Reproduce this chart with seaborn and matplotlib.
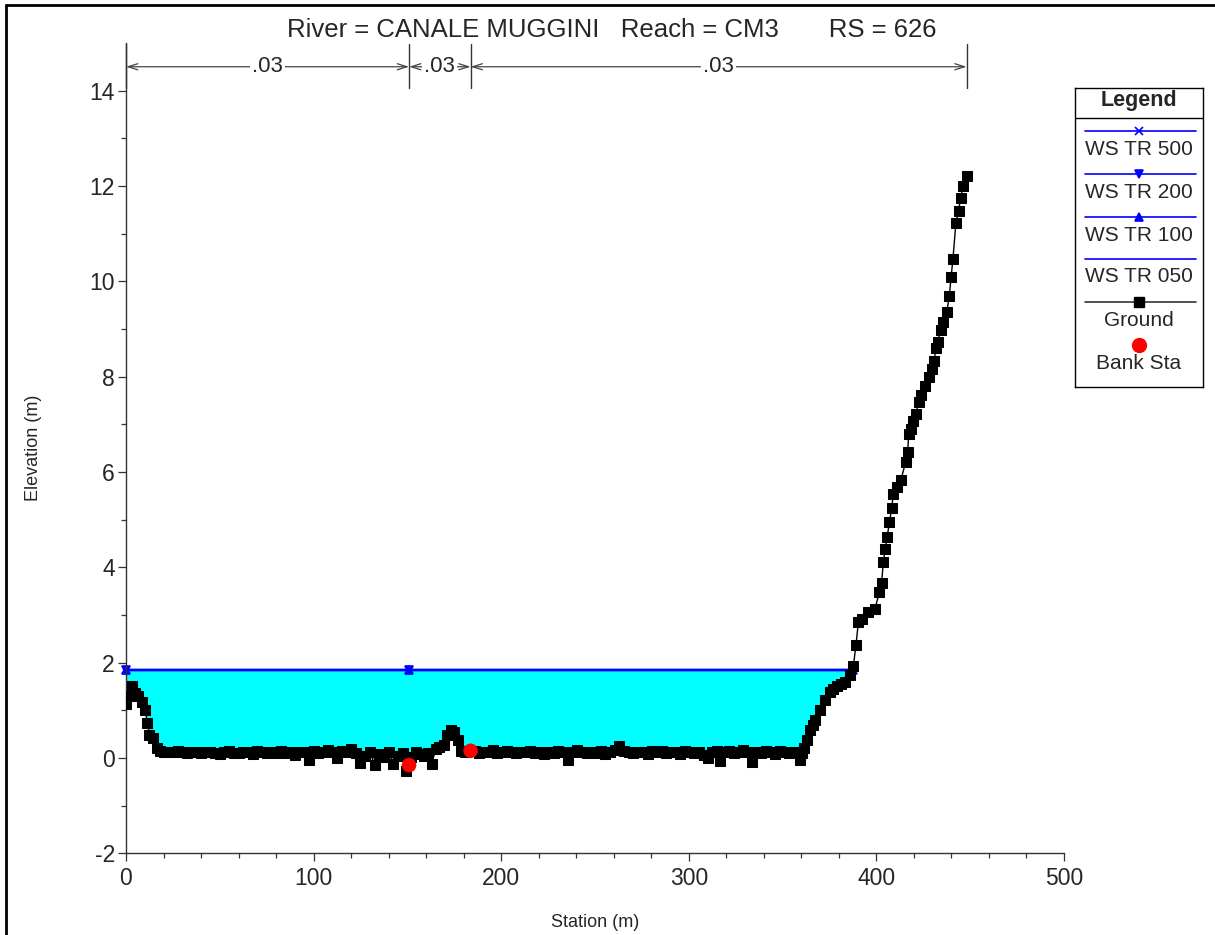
import numpy as np
import matplotlib
matplotlib.use('Agg')
import matplotlib.pyplot as plt
from matplotlib.lines import Line2D
from matplotlib.ticker import MultipleLocator, FixedLocator
import seaborn as sns

# ground profile (station m, elevation m)
ground_sta = [0.0, 1.5, 3.0, 4.8, 6.6, 8.4, 10.1, 11.4, 12.4, 14.6, 16.3, 18.0, 20.0, 22.5, 25.0,
              27.5, 30.0, 32.5, 35.0, 37.5, 40.0, 42.5, 45.0, 47.5, 50.0, 52.5, 55.0, 57.5, 60.0,
              62.5, 65.0, 67.5, 70.0, 72.5, 75.0, 77.5, 80.0, 82.5, 85.0, 87.5, 90.0, 92.5, 95.0,
              97.5, 100.0, 102.5, 105.0, 107.5, 110.0, 112.5, 115.0, 117.5, 120.0, 122.5, 125.0,
              127.5, 130.0, 132.5, 135.0, 137.5, 140.0, 142.5, 145.0, 147.5, 149.5, 152.0, 154.5,
              157.0, 159.0, 161.0, 163.0, 165.0, 167.0, 169.5, 171.0, 173.0, 175.0, 177.0, 178.5,
              180.5, 183.7, 186.0, 188.0, 190.5, 193.0, 195.5, 198.0, 200.5, 203.0, 205.5, 208.0,
              210.5, 213.0, 215.5, 218.0, 220.5, 223.0, 225.5, 228.0, 230.5, 233.0, 235.5, 238.0,
              240.5, 243.0, 245.5, 248.0, 250.5, 253.0, 255.5, 258.0, 260.5, 263.0, 265.5, 268.0,
              270.5, 273.0, 275.5, 278.0, 280.5, 283.0, 285.5, 288.0, 290.5, 293.0, 295.5, 298.0,
              300.5, 303.0, 305.5, 308.0, 310.0, 312.5, 315.0, 316.6, 319.0, 321.5, 324.0, 326.5,
              329.0, 331.5, 333.8, 336.0, 338.5, 341.0, 343.5, 346.0, 348.5, 351.0, 353.5, 356.0,
              359.3, 360.5, 361.4, 362.8, 364.6, 366.0, 367.3, 369.9, 372.6, 375.3, 377.0, 378.8,
              381.0, 383.3, 385.9, 387.7, 389.1, 390.4, 392.2, 395.7, 399.3, 401.6, 402.8, 403.7,
              404.7, 405.8, 406.9, 408.2, 409.0, 411.2, 413.1, 415.6, 416.7, 417.2, 418.4, 419.7,
              421.1, 422.5, 423.6, 425.9, 428.0, 429.5, 430.7, 431.8, 432.7, 434.3, 435.7, 437.5,
              438.9, 439.8, 440.8, 442.4, 443.8, 444.9, 446.3, 448.1]
ground_elev = [1.13, 1.30, 1.50, 1.36, 1.29, 1.18, 1.00, 0.74, 0.48, 0.41, 0.20, 0.14, 0.12, 0.13, 0.12,
               0.14, 0.12, 0.11, 0.13, 0.12, 0.10, 0.12, 0.13, 0.11, 0.09, 0.12, 0.14, 0.11, 0.10,
               0.13, 0.12, 0.09, 0.15, 0.12, 0.10, 0.13, 0.11, 0.14, 0.10, 0.12, 0.07, 0.13, 0.12,
               -0.05, 0.14, 0.10, 0.13, 0.16, 0.12, 0.00, 0.15, 0.12, 0.18, 0.10, -0.10,
               0.05, 0.13, -0.15, 0.08, 0.02, 0.13, -0.12, 0.05, 0.10, -0.27, 0.02, 0.12,
               0.08, 0.05, 0.10, -0.12, 0.18, 0.24, 0.27, 0.48, 0.58, 0.55, 0.38, 0.15,
               0.13, 0.15, 0.14, 0.10, 0.13, 0.12, 0.16, 0.11, 0.12, 0.15, 0.12, 0.10,
               0.13, 0.12, 0.15, 0.11, 0.12, 0.09, 0.13, 0.11, 0.14, 0.12, -0.04, 0.13,
               0.17, 0.12, 0.10, 0.13, 0.11, 0.14, 0.09, 0.12, 0.17, 0.26, 0.15, 0.12,
               0.10, 0.13, 0.12, 0.09, 0.14, 0.12, 0.15, 0.10, 0.13, 0.12, 0.09, 0.14,
               0.12, 0.11, 0.13, 0.07, -0.01, 0.12, 0.15, -0.06, 0.12, 0.14, 0.11, 0.13,
               0.16, 0.12, -0.08, 0.13, 0.11, 0.14, 0.12, 0.09, 0.15, 0.12, 0.10, 0.13,
               -0.05, 0.10, 0.20, 0.38, 0.59, 0.70, 0.80, 1.01, 1.22, 1.39, 1.45, 1.50,
               1.55, 1.60, 1.74, 1.92, 2.36, 2.85, 2.92, 3.07, 3.13, 3.48, 3.67, 4.12,
               4.38, 4.64, 4.94, 5.24, 5.53, 5.68, 5.83, 6.21, 6.41, 6.80, 6.91, 7.06,
               7.21, 7.47, 7.62, 7.81, 8.00, 8.15, 8.32, 8.59, 8.72, 8.98, 9.15, 9.35,
               9.70, 10.08, 10.46, 11.23, 11.48, 11.74, 12.00, 12.21]

# bank stations
bank_sta = [150.9, 183.7]
bank_elev = [-0.15, 0.15]

# water surface profiles (all at the same level)
ws_names = ['WS TR 500', 'WS TR 200', 'WS TR 100', 'WS TR 050']
ws_markers = ['x', 'v', '^', '']
ws_elev = 1.85
ws_sta = [0.0, 150.9, 387.5]

# manning's n values per subsection
n_values = ['.03', '.03', '.03']

title = 'River = CANALE MUGGINI   Reach = CM3       RS = 626'

sns.set_style('ticks')
plt.rcParams['font.family'] = ['Liberation Sans', 'DejaVu Sans']
plt.rcParams['axes.unicode_minus'] = False

fig = plt.figure(figsize=(12.15, 9.35), dpi=100)
ax = fig.add_axes([0.1037, 0.0874, 0.7720, 0.8667])

gx = np.array(ground_sta)
gy = np.array(ground_elev)

# water fill
ax.fill_between(gx, gy, ws_elev, where=gy <= ws_elev, interpolate=True,
                color='#00ffff', lw=0, zorder=1)

# water surface lines
for name, m in zip(ws_names, ws_markers):
    sns.lineplot(x=ws_sta, y=[ws_elev] * len(ws_sta), color='#0000ff', lw=1.6,
                 marker=m, markersize=6, markeredgecolor='#0000ff', mew=1.2,
                 estimator=None, sort=False, ax=ax, zorder=2, clip_on=False)

# ground
sns.lineplot(x=ground_sta, y=ground_elev, color='black', lw=1, marker='s', markersize=6.5,
             markeredgecolor='black', estimator=None, sort=False, ax=ax, zorder=3)

# bank stations
sns.scatterplot(x=bank_sta, y=bank_elev, color='#ff0000', s=110, edgecolor='none',
                ax=ax, zorder=4)

ax.set_xlim(0, 500)
ax.set_ylim(-2, 15)
ax.set_xticks(range(0, 501, 100))
ax.set_yticks(range(-2, 15, 2))
ax.xaxis.set_minor_locator(MultipleLocator(20))
ax.yaxis.set_minor_locator(FixedLocator(list(range(-1, 14, 2))))
ax.tick_params(which='major', length=6, width=0.9, color='#333333', labelsize=16.5, pad=2)
ax.tick_params(which='minor', length=3.5, width=0.9, color='#333333')
ax.tick_params(axis='x', pad=4)
for s in ['top', 'right']:
    ax.spines[s].set_visible(False)
for s in ['left', 'bottom']:
    ax.spines[s].set_color('#333333')
    ax.spines[s].set_linewidth(1)
ax.set_xlabel('Station (m)', fontsize=13, labelpad=17)
ax.set_ylabel('Elevation (m)', fontsize=13, labelpad=34)

# manning's n dimension lines
bounds = [ground_sta[0]] + bank_sta + [ground_sta[-1]]
for b in bounds:
    ax.plot([b, b], [14.05, 14.97], color='#333333', lw=1, clip_on=False)
for a, b, n in zip(bounds[:-1], bounds[1:], n_values):
    ax.annotate('', xy=(a, 14.5), xytext=(b, 14.5),
                arrowprops=dict(arrowstyle='<->,head_length=0.7,head_width=0.22',
                                color='#444444', lw=0.9, shrinkA=0, shrinkB=0))
    ax.text((a + b) / 2, 14.5, n, fontsize=16, ha='center', va='center',
            bbox=dict(facecolor='white', edgecolor='none', pad=1.5))

fig.text(0.5037, 0.968, title, fontsize=18.5, ha='center', va='center')

# legend box
lax = fig.add_axes([0.8848, 0.5861, 0.1053, 0.3198])
lax.set_xlim(0, 1)
lax.set_ylim(0, 1)
lax.set_xticks([])
lax.set_yticks([])
for s in lax.spines.values():
    s.set_visible(True)
    s.set_color('black')
    s.set_linewidth(1)
lax.text(0.5, 0.957, 'Legend', fontsize=15.5, fontweight='bold', ha='center', va='center')
lax.axhline(0.9, color='black', lw=1)
lx = [0.078, 0.5, 0.945]
line_y = [0.856, 0.712, 0.569, 0.428]
text_y = [0.793, 0.652, 0.508, 0.368]
for name, m, ly, ty in zip(ws_names, ws_markers, line_y, text_y):
    lax.plot(lx, [ly] * 3, color='#0000ff', lw=1.2, marker=m, markevery=[1],
             markersize=6, mew=1.2)
    lax.text(0.5, ty, name, fontsize=15, ha='center', va='center')
lax.plot(lx, [0.284] * 3, color='#333333', lw=1.2, marker='s', markevery=[1],
         markersize=7, markerfacecolor='black', markeredgecolor='black')
lax.text(0.5, 0.224, 'Ground', fontsize=15, ha='center', va='center')
lax.plot([0.5], [0.140], 'o', color='#ff0000', markersize=10)
lax.text(0.5, 0.080, 'Bank Sta', fontsize=15, ha='center', va='center')

# outer frame (left and top edges)
fig.add_artist(Line2D([0.005, 0.005], [0.0, 0.9947], transform=fig.transFigure,
                      color='black', lw=2))
fig.add_artist(Line2D([0.005, 1.0], [0.9947, 0.9947], transform=fig.transFigure,
                      color='black', lw=2))

fig.savefig('out.png', dpi=100)
